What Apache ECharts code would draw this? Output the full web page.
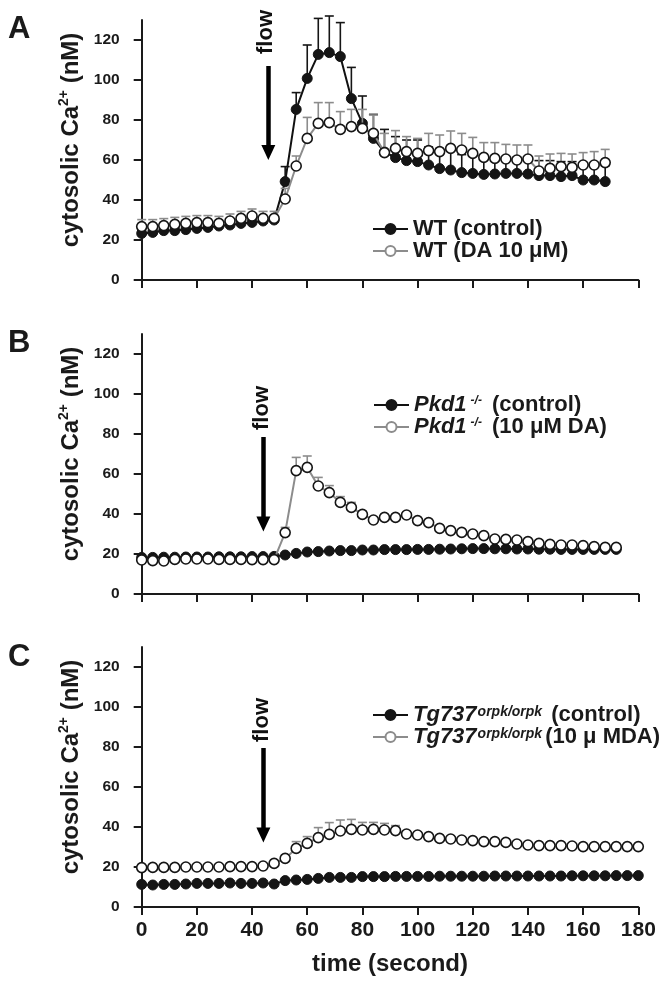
<!DOCTYPE html>
<html><head><meta charset="utf-8">
<script src="https://cdn.jsdelivr.net/npm/echarts@6/dist/echarts.min.js"></script>
<style>html,body{margin:0;padding:0;background:#fff}#c{width:669px;height:984px}</style>
</head><body><div id="c"></div>
<script>
// ---------- data ----------
const timeA = [0,4,8,12,16,20,24,28,32,36,40,44,48,52,56,60,64,68,72,76,80,84,88,92,96,100,104,108,112,116,120,124,128,132,136,140,144,148,152,156,160,164,168];
const timeB = [0,4,8,12,16,20,24,28,32,36,40,44,48,52,56,60,64,68,72,76,80,84,88,92,96,100,104,108,112,116,120,124,128,132,136,140,144,148,152,156,160,164,168,172];
const timeC = [0,4,8,12,16,20,24,28,32,36,40,44,48,52,56,60,64,68,72,76,80,84,88,92,96,100,104,108,112,116,120,124,128,132,136,140,144,148,152,156,160,164,168,172,176,180];

const wtControl = [23.3,23.8,24.7,24.7,25.2,25.8,26.3,27.0,27.5,28.3,28.8,29.5,30.0,49.2,85.3,100.8,112.8,113.7,111.7,90.7,78.3,70.8,64.0,61.2,59.7,59.2,57.5,55.7,55.0,53.7,53.3,52.8,53.0,53.3,53.3,53.0,52.2,52.2,51.7,52.2,50.0,50.0,49.2];
const wtControlErr = [1.5,1.5,1.5,1.5,1.5,1.5,1.5,1.5,1.5,1.5,1.5,1.5,1.5,7.5,8.4,16.7,18.0,18.3,17.0,15.6,13.7,12.0,11.3,10.5,10.3,10.8,9.0,10.0,10.0,9.0,9.0,8.5,8.0,8.0,8.0,7.5,7.5,7.5,7.5,7.0,8.0,8.0,8.0];
const wtDA = [26.7,26.7,27.2,27.8,28.3,28.7,28.7,28.3,29.5,30.8,32.0,30.8,30.8,40.5,57.0,70.8,78.3,78.7,75.3,76.7,75.8,73.3,63.7,65.8,64.2,63.3,64.7,64.2,65.8,65.0,63.3,61.3,60.8,60.5,60.0,60.5,54.5,55.8,56.7,56.3,57.5,57.5,58.7];
const wtDAErr = [3.5,3.5,3.5,3.5,3.5,3.5,3.5,3.5,3.5,3.5,3.5,3.5,3.5,5.3,5.0,10.5,10.4,10.0,8.9,8.6,9.5,9.2,9.6,8.9,7.5,7.5,8.6,8.3,8.7,8.3,8.0,7.4,7.9,7.3,7.5,7.0,7.5,7.2,6.6,6.7,6.2,6.7,6.6];

const pkdControl = [18.3,18.3,18.4,18.4,18.5,18.5,18.5,18.6,18.6,18.6,18.7,18.7,18.8,19.5,20.3,21.0,21.2,21.5,21.7,21.7,22.0,22.0,22.2,22.2,22.2,22.3,22.3,22.4,22.5,22.6,22.7,22.7,22.6,22.6,22.5,22.5,22.4,22.4,22.3,22.3,22.3,22.3,22.3,22.3];
const pkdDA = [17.0,16.7,16.5,17.3,17.5,17.5,17.5,17.3,17.3,17.3,17.2,17.2,17.2,30.7,61.7,63.3,54.0,50.7,45.8,43.3,39.8,37.0,38.3,38.3,39.5,36.7,35.7,32.8,31.7,30.8,30.0,29.2,27.5,27.3,27.0,26.2,25.3,24.8,24.5,24.5,24.2,23.7,23.3,23.3];
const pkdDAErr = [0.8,0.8,0.8,0.8,0.8,0.8,0.8,0.8,0.8,0.8,0.8,0.8,0.8,2.6,6.6,5.7,4.3,3.5,2.9,2.5,1.5,1.2,1.2,1.2,1.2,1.0,1.0,1.0,1.0,1.0,1.0,1.0,1.0,1.0,1.0,1.0,1.0,1.0,1.0,1.0,1.0,1.0,1.0,1.0];

const tgControl = [11.3,11.0,11.3,11.3,11.5,11.8,11.8,11.8,12.0,11.8,11.8,12.0,11.5,13.2,13.5,13.8,14.3,14.8,14.8,14.8,15.2,15.2,15.2,15.3,15.3,15.3,15.3,15.4,15.4,15.4,15.4,15.4,15.5,15.5,15.5,15.5,15.5,15.5,15.5,15.6,15.6,15.6,15.6,15.7,15.7,15.7];
const tgDA = [19.7,19.8,19.8,19.8,20.0,20.0,20.0,20.0,20.2,20.2,20.2,20.5,21.8,24.3,29.3,31.8,34.7,36.3,38.0,38.8,38.5,38.8,38.5,38.2,36.5,36.0,35.2,34.3,34.0,33.5,33.2,32.7,32.7,32.3,31.5,31.0,30.7,30.7,30.7,30.5,30.2,30.2,30.2,30.2,30.2,30.2];
const tgDAErr = [0.5,0.5,0.5,0.5,0.5,0.5,0.5,0.5,0.5,0.5,0.5,0.5,0.5,1.5,3.4,3.4,5.0,5.9,5.5,5.0,3.8,3.5,3.3,2.5,1.5,1.0,1.0,1.0,1.0,1.0,1.0,1.0,1.0,1.0,1.0,1.0,1.0,1.0,1.0,1.0,1.0,1.0,1.0,1.0,1.0,1.0];

const yTicks = [0,20,40,60,80,100,120];
const panelLetters = ['A','B','C'];
const legendNames = [
  ['WT (control)','WT (DA 10 μM)'],
  ['Pkd1-/- (control)','Pkd1-/- (10 μM DA)'],
  ['Tg737orpk/orpk (control)','Tg737orpk/orpk (10 μ MDA)']
];
const legendRich = {
  'WT (control)': 'WT (control)',
  'WT (DA 10 μM)': 'WT (DA 10 μM)',
  'Pkd1-/- (control)': '{i|Pkd1}{s|-/-}{n| (control)}',
  'Pkd1-/- (10 μM DA)': '{i|Pkd1}{s|-/-}{n| (10 μM DA)}',
  'Tg737orpk/orpk (control)': '{i|Tg737}{o|orpk/orpk}{n| (control)}',
  'Tg737orpk/orpk (10 μ MDA)': '{i|Tg737}{o|orpk/orpk}{n|(10 μ MDA)}'
};
// flow annotation positions in data units [time, value]
const flowText = [[45.2,124],[43.6,93],[43.6,93.5]];
const flowShaft = [[[45.9,107],[45.9,64]],[[44.1,78.5],[44.1,35]],[[44.1,79.5],[44.1,36]]];
const flowHead = [[45.9,63.8],[44.1,35],[44.1,36]];

// ---------- chart ----------
const FONT = '"Liberation Sans", Arial, Helvetica, sans-serif';
const chart = echarts.init(document.getElementById('c'), null, {renderer:'canvas'});
const gridTops = [20, 334, 647];

function pairs(t, v){ return t.map((x,i)=>[x, v[i]]); }

function errSeries(idx, times, vals, errs, color, z){
  return {
    type:'custom', xAxisIndex:idx, yAxisIndex:idx, z:z, silent:true,
    encode:{x:0, y:[1,2]},
    data: times.map((t,i)=>[t, vals[i], vals[i]+errs[i]]),
    renderItem: function(params, api){
      const x = api.value(0);
      const p0 = api.coord([x, api.value(1)]);
      const p1 = api.coord([x, api.value(2)]);
      const w = 4.5;
      return {type:'group', children:[
        {type:'line', shape:{x1:p0[0],y1:p0[1],x2:p1[0],y2:p1[1]}, style:{stroke:color, lineWidth:1.6}},
        {type:'line', shape:{x1:p1[0]-w,y1:p1[1],x2:p1[0]+w,y2:p1[1]}, style:{stroke:color, lineWidth:1.6}}
      ]};
    }
  };
}

function flowMarks(i){
  return {
    markPoint:{
      silent:true,
      data:[
        {coord:flowText[i], symbol:'circle', symbolSize:1, itemStyle:{color:'rgba(0,0,0,0)'},
         label:{show:true, position:'inside', formatter:'flow', rotate:90, color:'#111', fontSize:22, fontWeight:'bold', fontFamily:FONT}},
        {coord:flowHead[i], symbol:'triangle', symbolRotate:180, symbolSize:[14,15], itemStyle:{color:'#000'}, label:{show:false}}
      ]
    },
    markLine:{
      silent:true, symbol:['none','none'],
      lineStyle:{color:'#000', width:4.5, type:'solid'}, label:{show:false},
      data:[[{coord:flowShaft[i][0]},{coord:flowShaft[i][1]}]]
    }
  };
}

function ctrlLine(idx, name, times, vals){
  return Object.assign({
    name:name, type:'line', xAxisIndex:idx, yAxisIndex:idx, z:3,
    data:pairs(times, vals), symbol:'circle', symbolSize:10,
    lineStyle:{color:'#111', width:2}, itemStyle:{color:'#151515', borderColor:'#151515', borderWidth:1}
  }, flowMarks(idx));
}
function daLine(idx, name, times, vals){
  return {
    name:name, type:'line', xAxisIndex:idx, yAxisIndex:idx, z:5,
    data:pairs(times, vals), symbol:'circle', symbolSize:10,
    lineStyle:{color:'#8c8c8c', width:2}, itemStyle:{color:'#fff', borderColor:'#151515', borderWidth:1.6}
  };
}

const grids = [], xAxes = [], yAxes = [], legends = [], titles = [];
for (let i=0;i<3;i++){
  grids.push({left:141.7, width:496.6, top:gridTops[i], height:260});
  xAxes.push({
    type:'value', gridIndex:i, min:0, max:180, interval:20,
    axisLine:{onZero:false, lineStyle:{color:'#1a1a1a', width:2}},
    axisTick:{show:true, length:8, lineStyle:{color:'#1a1a1a', width:2}},
    axisLabel:{show:i===2, margin:13, color:'#1a1a1a', fontSize:21, fontWeight:'bold', fontFamily:FONT},
    splitLine:{show:false},
    name: i===2 ? 'time (second)' : '',
    nameLocation:'middle', nameGap:45,
    nameTextStyle:{color:'#1a1a1a', fontSize:24, fontWeight:'bold', fontFamily:FONT}
  });
  yAxes.push({
    type:'value', gridIndex:i, min:0, max:130, interval:20,
    axisLine:{show:true, lineStyle:{color:'#1a1a1a', width:2}},
    axisTick:{show:true, length:8, customValues:yTicks, lineStyle:{color:'#1a1a1a', width:2}},
    axisLabel:{margin:22, customValues:yTicks, color:'#1a1a1a', fontSize:15.5, fontWeight:'bold', fontFamily:FONT},
    splitLine:{show:false},
    name:'{a|cytosolic Ca}{s|2+}{a| (nM)}',
    nameLocation:'middle', nameGap:52,
    nameTextStyle:{color:'#1a1a1a', padding:[0,0,0,20], rich:{
      a:{fontSize:24, fontWeight:'bold', fontFamily:FONT, color:'#1a1a1a', lineHeight:28},
      s:{fontSize:14, fontWeight:'bold', fontFamily:FONT, color:'#1a1a1a', verticalAlign:'top', lineHeight:16}
    }}
  });
  titles.push({text:panelLetters[i], left:3, top:[9, 323, 637][i],
    textStyle:{fontSize:31, fontWeight:'bold', color:'#1a1a1a', fontFamily:FONT}});
  legends.push({
    data:[{name:legendNames[i][0]},{name:legendNames[i][1], itemStyle:{borderColor:'#8c8c8c'}}],
    orient:'vertical', left:[372,373,372][i], top:[218,394,704][i], padding:0,
    itemWidth:35, itemHeight:12.5, itemGap:0, selectedMode:false,
    formatter:function(n){ return legendRich[n]; },
    textStyle:{color:'#1a1a1a', fontSize:22, fontWeight:'bold', fontFamily:FONT, lineHeight:20,
      rich:{
        i:{fontSize:22, fontWeight:'bold', fontStyle:'italic', fontFamily:FONT, color:'#1a1a1a', lineHeight:20},
        n:{fontSize:22, fontWeight:'bold', fontFamily:FONT, color:'#1a1a1a', lineHeight:20},
        s:{fontSize:12, fontStyle:'italic', fontFamily:FONT, color:'#1a1a1a', verticalAlign:'top', lineHeight:12, padding:[0,4,0,4]},
        o:{fontSize:14, fontStyle:'italic', fontWeight:'bold', fontFamily:FONT, color:'#1a1a1a', verticalAlign:'top', lineHeight:13, padding:[0,3,0,1]}
      }}
  });
}

const series = [
  errSeries(0, timeA, wtControl, wtControlErr, '#151515', 2),
  ctrlLine(0, legendNames[0][0], timeA, wtControl),
  errSeries(0, timeA, wtDA, wtDAErr, '#8c8c8c', 4),
  daLine(0, legendNames[0][1], timeA, wtDA),

  ctrlLine(1, legendNames[1][0], timeB, pkdControl),
  errSeries(1, timeB, pkdDA, pkdDAErr, '#8c8c8c', 4),
  daLine(1, legendNames[1][1], timeB, pkdDA),

  ctrlLine(2, legendNames[2][0], timeC, tgControl),
  errSeries(2, timeC, tgDA, tgDAErr, '#8c8c8c', 4),
  daLine(2, legendNames[2][1], timeC, tgDA)
];

chart.setOption({
  animation:false,
  backgroundColor:'#fff',
  title:titles, grid:grids, xAxis:xAxes, yAxis:yAxes, legend:legends, series:series
});
</script></body></html>
